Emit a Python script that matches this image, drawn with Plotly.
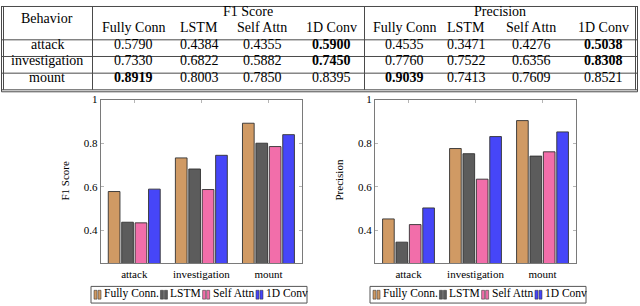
import plotly.graph_objects as go

# ---------------- data ----------------
behaviors = ["attack", "investigation", "mount"]
model_headers = ["Fully Conn", "LSTM", "Self Attn", "1D Conv"]
legend_names = ["Fully Conn.", "LSTM", "Self Attn", "1D Conv"]

f1_fully_conn = [0.5790, 0.7330, 0.8919]
f1_lstm = [0.4384, 0.6822, 0.8003]
f1_self_attn = [0.4355, 0.5882, 0.7850]
f1_conv1d = [0.5900, 0.7450, 0.8395]

prec_fully_conn = [0.4535, 0.7760, 0.9039]
prec_lstm = [0.3471, 0.7522, 0.7413]
prec_self_attn = [0.4276, 0.6356, 0.7609]
prec_conv1d = [0.5038, 0.8308, 0.8521]

y_ticks = [0.4, 0.6, 0.8, 1.0]

f1_series = [f1_fully_conn, f1_lstm, f1_self_attn, f1_conv1d]
prec_series = [prec_fully_conn, prec_lstm, prec_self_attn, prec_conv1d]

# ---------------- style ----------------
W, H = 640, 306
FONT = "Liberation Serif"
fill_colors = ["#D09A64", "#5C5C5C", "#F26EAA", "#4646F8"]
edge_color = "rgba(50,50,50,0.9)"

# approximate Times glyph widths (em) for legend layout
TIMES_W = {"F": .556, "u": .5, "l": .278, "y": .5, " ": .25, "C": .667, "o": .5,
           "n": .5, ".": .25, "L": .611, "S": .556, "T": .611, "M": .889,
           "e": .444, "f": .333, "A": .722, "t": .278, "1": .5, "D": .722, "v": .5}


def text_width(s, size):
    return sum(TIMES_W.get(ch, 0.5) for ch in s) * size


def px(x):
    return x / W


def py(y):
    return 1 - y / H


fig = go.Figure()

for i, name in enumerate(legend_names):
    fig.add_trace(go.Bar(
        x=behaviors, y=f1_series[i], name=name,
        marker=dict(color=fill_colors[i], line=dict(color=edge_color, width=1)),
        xaxis="x", yaxis="y", showlegend=False))
for i, name in enumerate(legend_names):
    fig.add_trace(go.Bar(
        x=behaviors, y=prec_series[i], name=name,
        marker=dict(color=fill_colors[i], line=dict(color=edge_color, width=1)),
        xaxis="x2", yaxis="y2", showlegend=False))

AX_TOP, AX_BOT = 95.5, 262.5
left_plot = (100.7, 302.0)
right_plot = (375.0, 576.0)


def xaxis_cfg(dom, anchor):
    return dict(domain=[px(dom[0]), px(dom[1])], anchor=anchor, type="category",
                range=[-0.5, 2.5], showline=True, linecolor="#7a7a7a", linewidth=1,
                mirror="allticks", ticks="inside", ticklen=3, tickcolor="#b5b5b5",
                tickfont=dict(family=FONT, size=11, color="black"),
                showgrid=False, zeroline=False, fixedrange=True)


def yaxis_cfg(anchor):
    return dict(domain=[py(AX_BOT), py(AX_TOP)], anchor=anchor, range=[0.25, 1.0],
                tickvals=y_ticks, ticktext=[f"{v:g}" for v in y_ticks],
                showline=True, linecolor="#7a7a7a", linewidth=1,
                mirror="allticks", ticks="inside", ticklen=3, tickcolor="#b5b5b5",
                tickfont=dict(family=FONT, size=11, color="black"),
                showgrid=False, zeroline=False, fixedrange=True)


shapes = []
annotations = []

# ---------------- table ----------------
line_c = "#4a4a4a"


def hline(y, x0, x1):
    shapes.append(dict(type="line", xref="paper", yref="paper", x0=px(x0), x1=px(x1),
                       y0=py(y), y1=py(y), line=dict(color=line_c, width=1)))


def vline(x, y0, y1):
    shapes.append(dict(type="line", xref="paper", yref="paper", x0=px(x), x1=px(x),
                       y0=py(y0), y1=py(y1), line=dict(color=line_c, width=1)))


T_LEFT, T_RIGHT = 1.5, 637.5
hline(0.5, T_LEFT, T_RIGHT)
for yy in [34.5, 51.5, 68.5, 85.5]:
    hline(yy, T_LEFT, T_RIGHT)
hline(87.5, T_LEFT, T_RIGHT)
vline(1.5, 0, 87.5)
vline(3.5, 0, 85.5)
vline(635.5, 0, 85.5)
vline(637.5, 0, 87.5)
vline(92.5, 0, 85.5)
vline(364.5, 0, 85.5)

TF = 14
TABLE_DY = -4
f1_cols = [133, 199, 262, 331]
prec_cols = [404, 466, 531, 603]
row_y = [43, 60, 77]


def text(x, y, s, size=TF, xanchor="center", angle=0, dy=0.0):
    annotations.append(dict(xref="paper", yref="paper", x=px(x), y=py(y + dy), text=s,
                            showarrow=False, xanchor=xanchor, yanchor="middle",
                            textangle=angle, borderpad=0,
                            font=dict(family=FONT, size=size, color="black")))


text(47, 17, "Behavior", dy=TABLE_DY)
text(248, 10, "F1 Score", dy=TABLE_DY)
text(500, 10, "Precision", dy=TABLE_DY)
for j, h in enumerate(model_headers):
    text(f1_cols[j], 26, h, dy=TABLE_DY)
    text(prec_cols[j], 26, h, dy=TABLE_DY)
for r, b in enumerate(behaviors):
    text(47, row_y[r], b, dy=TABLE_DY)
    for series, cols in [(f1_series, f1_cols), (prec_series, prec_cols)]:
        row_vals = [s[r] for s in series]
        best = max(row_vals)
        for j, v in enumerate(row_vals):
            s = f"{v:.4f}"
            if v == best:
                s = f"<b>{s}</b>"
            text(cols[j], row_y[r], s, dy=TABLE_DY)

# ---------------- axis titles ----------------
text(65, 178, "F1 Score", size=11, angle=-90)
text(339, 178, "Precision", size=11, angle=-90)

# ---------------- legends ----------------
LEG_FS = 11.5
SYM_W, SYM_GAP, ENTRY_GAP, PAD = 7, 2, 2.5, 3


def legend(box_left, box_right, top, bottom):
    shapes.append(dict(type="rect", xref="paper", yref="paper", x0=px(box_left), x1=px(box_right),
                       y0=py(bottom), y1=py(top), line=dict(color="#555", width=1),
                       fillcolor="white"))
    cy = (top + bottom) / 2
    sx = box_left + PAD
    for i, name in enumerate(legend_names):
        for k in range(2):
            shapes.append(dict(type="rect", xref="paper", yref="paper",
                               x0=px(sx + 4 * k), x1=px(sx + 4 * k + 3),
                               y0=py(cy + 4.5), y1=py(cy - 4.5),
                               line=dict(color=edge_color, width=0.6),
                               fillcolor=fill_colors[i]))
        tx = sx + SYM_W + SYM_GAP
        text(tx, cy, name, size=LEG_FS, xanchor="left", dy=-1.5)
        sx = tx + text_width(name, LEG_FS) + ENTRY_GAP


legend(91, 307, 286, 303)
legend(370, 586, 286, 303)

fig.update_layout(
    width=W, height=H, margin=dict(l=0, r=0, t=0, b=0),
    paper_bgcolor="white", plot_bgcolor="white",
    showlegend=False, barmode="group", bargap=0.2, bargroupgap=0.13,
    font=dict(family=FONT, color="black"),
    xaxis=xaxis_cfg(left_plot, "y"), yaxis=yaxis_cfg("x"),
    xaxis2=xaxis_cfg(right_plot, "y2"), yaxis2=yaxis_cfg("x2"),
    shapes=shapes, annotations=annotations,
)

fig.write_html("out.html", config={"displayModeBar": False},
               post_script="document.body.style.margin='0px';document.body.style.overflow='hidden';")
